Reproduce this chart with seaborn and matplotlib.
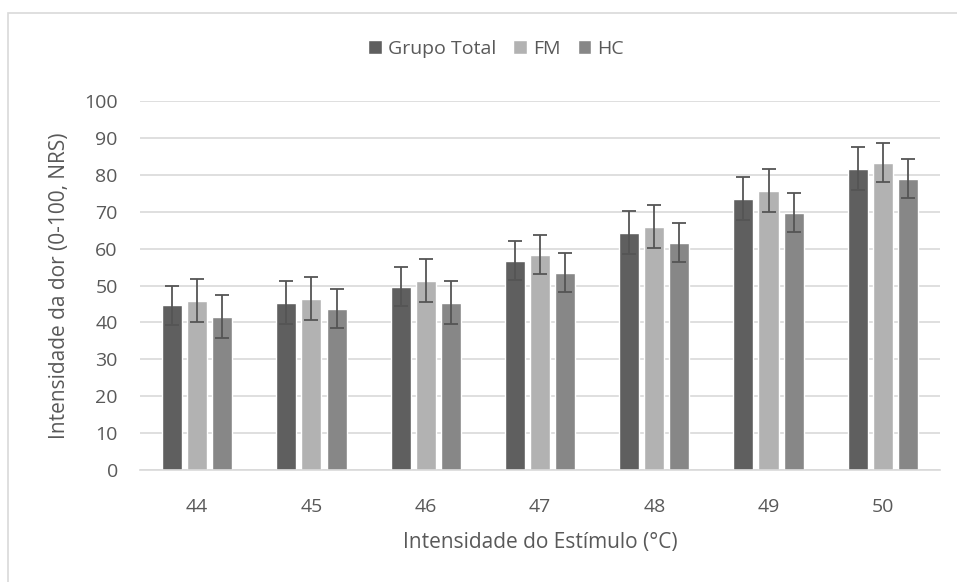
"""Intensidade da dor por intensidade do estímulo (barras agrupadas com desvio)."""

import numpy as np
import pandas as pd
import matplotlib
matplotlib.use("Agg")
import matplotlib.pyplot as plt
import seaborn as sns
from matplotlib.patches import Rectangle

# Dados
estimulos = ["44", "45", "46", "47", "48", "49", "50"]
grupos = ["Grupo Total", "FM", "HC"]

grupo_total = [44.7, 45.3, 49.7, 56.7, 64.3, 73.5, 81.7]
fm = [45.9, 46.4, 51.3, 58.3, 65.9, 75.7, 83.3]
hc = [41.6, 43.7, 45.3, 53.5, 61.6, 69.7, 78.9]

erro_grupo_total = [5.3, 5.8, 5.2, 5.3, 5.8, 5.8, 5.8]
erro_fm = [5.9, 5.8, 5.8, 5.3, 5.8, 5.8, 5.2]
erro_hc = [5.7, 5.3, 5.8, 5.2, 5.3, 5.3, 5.3]

cores = ["#5f5f5f", "#b2b2b2", "#878787"]
cor_texto = "#595959"

# Tableau long pour seaborn
df = pd.DataFrame({
    "estimulo": estimulos * 3,
    "grupo": np.repeat(grupos, len(estimulos)),
    "valor": grupo_total + fm + hc,
})
erros = [erro_grupo_total, erro_fm, erro_hc]

sns.set_style("white")
plt.rcParams["font.family"] = ["Open Sans", "DejaVu Sans"]

fig = plt.figure(figsize=(9.57, 5.82), dpi=100)
ax = fig.add_axes([0.1463, 0.1924, 0.8359, 0.6340])

sns.barplot(data=df, x="estimulo", y="valor", hue="grupo", order=estimulos,
            hue_order=grupos, palette=cores, width=0.66, gap=0.2,
            errorbar=None, saturation=1, ax=ax, zorder=2)

# Barres d'erreur à partir des centres des barres
for cont, err in zip(ax.containers, erros):
    xs = [p.get_x() + p.get_width() / 2 for p in cont.patches]
    ys = [p.get_height() for p in cont.patches]
    ax.errorbar(xs, ys, yerr=err, fmt="none", ecolor="#555555",
                elinewidth=1.3, capsize=5, capthick=1.3, zorder=3)

ax.set_ylim(0, 100)
ax.set_xlim(-0.5, 6.5)
ax.set_yticks(range(0, 101, 10))
ax.yaxis.grid(True, color="#d9d9d9", linewidth=1.2, zorder=0)
ax.set_axisbelow(True)
for side in ["top", "right", "left"]:
    ax.spines[side].set_visible(False)
ax.spines["bottom"].set_color("#d9d9d9")
ax.spines["bottom"].set_linewidth(1.2)
ax.tick_params(axis="both", length=0, labelsize=14, labelcolor=cor_texto)
ax.tick_params(axis="y", pad=16)
ax.tick_params(axis="x", pad=20)

ax.set_xlabel("Intensidade do Estímulo (°C)", fontsize=15, color=cor_texto,
              labelpad=12)
ax.set_ylabel("Intensidade da dor (0-100, NRS)", fontsize=15, color=cor_texto,
              labelpad=10)

leg = ax.legend(loc="lower center", bbox_to_anchor=(0.445, 1.07), ncol=3,
                frameon=False, fontsize=14, handlelength=0.7,
                handleheight=0.7, handletextpad=0.3, columnspacing=0.9)
for t in leg.get_texts():
    t.set_color(cor_texto)

# Bordure de la zone du graphique
fig.patches.append(Rectangle((8 / 957, -0.1), 1.2, 1 - 13 / 582 + 0.1,
                             transform=fig.transFigure, fill=False,
                             edgecolor="#d9d9d9", linewidth=1.2))

fig.savefig("out.png", dpi=100)
